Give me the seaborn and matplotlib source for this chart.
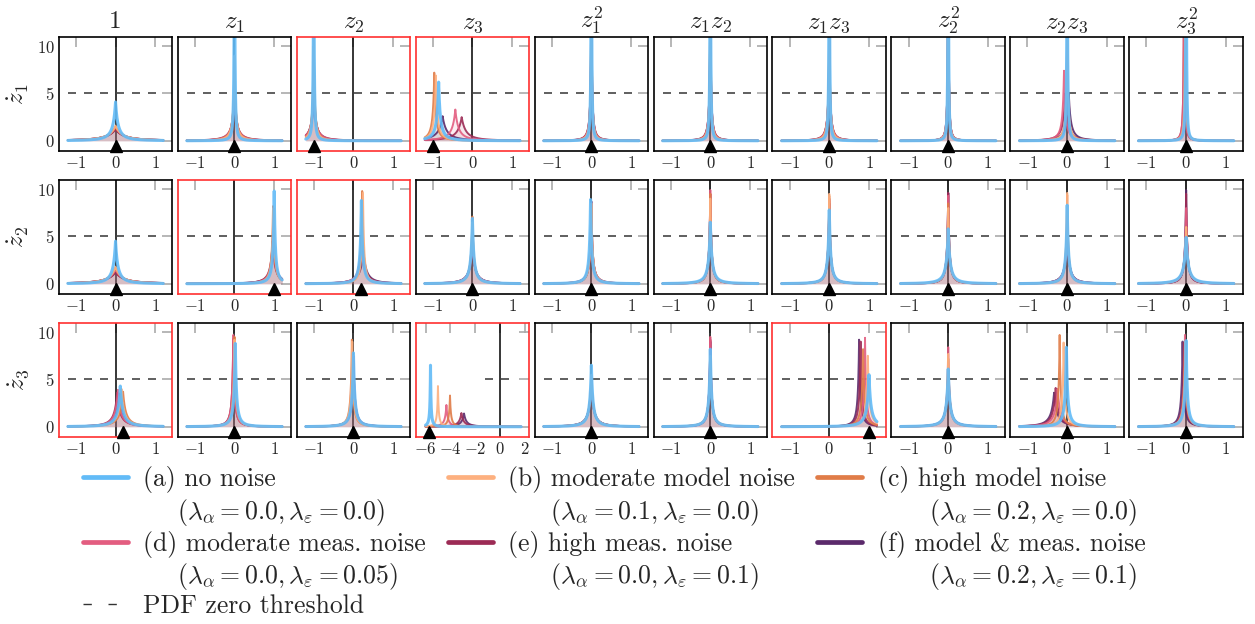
import numpy as np
import matplotlib.pyplot as plt
import seaborn as sns
from matplotlib.lines import Line2D

# --------------------------
# Data
# --------------------------
terms = ["1", r"$z_1$", r"$z_2$", r"$z_3$", r"$z_1^2$", r"$z_1 z_2$",
         r"$z_1 z_3$", r"$z_2^2$", r"$z_2 z_3$", r"$z_3^2$"]
targets = [r"$\dot{z}_1$", r"$\dot{z}_2$", r"$\dot{z}_3$"]

setting_names = ["(a) no noise", "(b) moderate model noise", "(c) high model noise",
                 "(d) moderate meas. noise", "(e) high meas. noise", "(f) model & meas. noise"]
setting_params = [r"$(\lambda_\alpha = 0.0, \lambda_\varepsilon = 0.0)$",
                  r"$(\lambda_\alpha = 0.1, \lambda_\varepsilon = 0.0)$",
                  r"$(\lambda_\alpha = 0.2, \lambda_\varepsilon = 0.0)$",
                  r"$(\lambda_\alpha = 0.0, \lambda_\varepsilon = 0.05)$",
                  r"$(\lambda_\alpha = 0.0, \lambda_\varepsilon = 0.1)$",
                  r"$(\lambda_\alpha = 0.2, \lambda_\varepsilon = 0.1)$"]
colors = ["#62bbf7", "#fdb07f", "#e07c48", "#e35d80", "#9c2b55", "#5b2a6b"]

# true coefficient (black triangle) per row / term
true_dz1 = [0, 0, -1, -1, 0, 0, 0, 0, 0, 0]
true_dz2 = [0, 1, 0.2, 0, 0, 0, 0, 0, 0, 0]
true_dz3 = [0.2, 0, 0, -5.7, 0, 0, 1, 0, 0, 0]

# peak location per term, settings (a)..(f)
loc_dz1 = [[0, 0, 0, 0, 0, 0],
           [0, 0, 0, 0, 0, 0],
           [-1, -1, -1, -1, -1, -1],
           [-0.85, -0.92, -0.96, -0.43, -0.27, -0.75],
           [0, 0, 0, 0, 0, 0],
           [0, 0, 0, 0, 0, 0],
           [0, 0, 0, 0, 0, 0],
           [0, 0, 0, 0, 0, 0],
           [0, 0, 0, -0.08, -0.05, 0.04],
           [0, -0.02, -0.02, -0.05, -0.05, -0.03]]
loc_dz2 = [[0, 0, 0, 0, 0, 0],
           [1.0, 0.98, 0.97, 0.97, 0.96, 0.98],
           [0.2, 0.24, 0.22, 0.2, 0.22, 0.25],
           [0, 0, 0, 0, 0, 0],
           [-0.02, 0, 0, 0, 0, 0],
           [0, 0, 0, 0, 0, 0],
           [0, 0, 0, 0, 0, 0],
           [0, 0, 0, 0, 0, 0],
           [0, 0, 0, 0, 0, 0],
           [0, 0, 0, 0, 0, 0]]
loc_dz3 = [[0.12, 0.15, 0.19, 0.06, 0.04, 0.1],
           [0.02, 0, 0, -0.03, -0.03, -0.02],
           [0, -0.03, -0.04, 0, -0.01, 0],
           [-5.6, -5.0, -4.03, -4.32, -3.11, -2.9],
           [0, 0, 0, 0, 0, 0],
           [0, 0, 0, 0, 0, 0],
           [1.0, 0.97, 0.85, 0.9, 0.79, 0.75],
           [0, 0, 0, 0, 0, 0],
           [-0.02, -0.09, -0.19, -0.24, -0.29, -0.33],
           [0, -0.02, -0.03, -0.03, -0.05, -0.09]]

# peak height per term, settings (a)..(f)
height_dz1 = [[4.1, 1.6, 1.5, 1.5, 1.2, 1.3],
              [30, 9, 7, 5, 4, 6],
              [30, 12, 10, 5, 4, 6],
              [6.2, 6.9, 7.2, 3.3, 2.5, 2.6],
              [40, 20, 20, 15, 12, 15],
              [40, 20, 18, 14, 12, 14],
              [40, 15, 14, 10, 9, 11],
              [50, 30, 30, 25, 25, 25],
              [30, 12, 11, 7.4, 5, 5],
              [40, 30, 30, 30, 30, 30]]
height_dz2 = [[4.5, 1.8, 1.7, 1.5, 1.2, 1.3],
              [9.8, 8.0, 8.2, 5.5, 4.5, 4.0],
              [8.8, 9.6, 9.8, 5.0, 4.0, 3.5],
              [6.9, 6.5, 7.1, 4.5, 4.0, 4.2],
              [8.9, 8.5, 8.0, 7.0, 6.0, 8.7],
              [6.5, 9.0, 9.5, 9.9, 9.5, 9.0],
              [7.8, 9.5, 9.3, 8.8, 9.0, 8.5],
              [5.8, 8.0, 8.5, 9.3, 9.6, 9.6],
              [8.3, 9.6, 9.4, 6.0, 5.0, 5.0],
              [4.9, 6.0, 6.0, 8.0, 9.5, 9.9]]
height_dz3 = [[4.3, 4.0, 3.7, 3.9, 3.6, 3.5],
              [8.8, 9.2, 9.5, 9.7, 9.3, 9.0],
              [7.8, 9.0, 9.2, 7.5, 7.0, 7.0],
              [6.5, 4.3, 3.3, 2.3, 1.45, 1.4],
              [6.5, 5.5, 5.0, 4.9, 4.5, 4.5],
              [8.2, 7.5, 7.0, 9.5, 9.2, 9.0],
              [5.5, 7.5, 8.2, 9.4, 9.0, 9.2],
              [6.1, 7.7, 7.2, 8.4, 6.0, 6.0],
              [8.4, 8.9, 9.7, 4.0, 4.1, 3.6],
              [9.1, 9.0, 9.0, 9.7, 8.9, 9.0]]

# panels where the identified support is wrong (red frame)
red_panels = [(0, 2), (0, 3), (1, 1), (1, 2), (2, 0), (2, 3), (2, 6)]

true_vals = [true_dz1, true_dz2, true_dz3]
locs = [loc_dz1, loc_dz2, loc_dz3]
heights = [height_dz1, height_dz2, height_dz3]

# --------------------------
# Style
# --------------------------
sns.set_style("white")
plt.rcParams["font.family"] = ["cmr10", "DejaVu Serif"]
plt.rcParams["mathtext.fontset"] = "cm"
plt.rcParams["axes.formatter.use_mathtext"] = True

fig, axes = plt.subplots(3, 10, figsize=(12.55, 6.24), dpi=100)
fig.subplots_adjust(left=0.0468, right=0.9904, top=0.9412, bottom=0.3002,
                    wspace=0.047, hspace=0.254)

for r in range(3):
    for c in range(10):
        ax = axes[r, c]
        wide = (r, c) == (2, 3)
        grid = np.linspace(-6.0, 1.7, 4001) if wide else np.linspace(-1.2, 1.2, 2401)

        # curves: draw (f) first, (a) last so blue sits on top
        for k in reversed(range(6)):
            m = locs[r][c][k]
            h = heights[r][c][k]
            s = 1.0 / (2 * h)
            x = np.sort(np.append(grid, m))
            y = h / (1 + np.abs(x - m) / s) ** 2
            ax.fill_between(x, y, color=colors[k], alpha=0.1, lw=0, zorder=1.5)
            sns.lineplot(x=x, y=y, ax=ax, color=colors[k], lw=2.2 if k == 0 else 1.4,
                         alpha=0.9, estimator=None, sort=False, zorder=2)

        ax.axvline(0, color="k", lw=1.1, zorder=1)
        ax.plot([-1.2, 1.2], [5, 5], color="#444444", lw=1.2, dashes=(4.8, 4.8), zorder=1)
        ax.plot(true_vals[r][c], -0.6, marker="^", color="k", ms=9, clip_on=False, zorder=5)

        ax.set_ylim(-1.05, 11)
        if wide:
            ax.set_xlim(-6.8, 2.35)
            ax.set_xticks([-6, -4, -2, 0, 2])
        else:
            ax.set_xlim(-1.43, 1.43)
            ax.set_xticks([-1, 0, 1])
        ax.set_yticks([0, 5, 10])
        ax.tick_params(direction="in", length=7, width=1.2, color="#aaaaaa",
                       top=True, right=True, labelsize=12, pad=3,
                       labelleft=(c == 0))
        ax.set_xlabel("")
        ax.set_ylabel("")

        edge = "#ff3030" if (r, c) in red_panels else "black"
        for sp in ax.spines.values():
            sp.set_color(edge)
            sp.set_linewidth(1.2)

        if r == 0:
            ax.set_title(terms[c], fontsize=18, pad=6)
        if c == 0:
            ax.set_ylabel(targets[r], fontsize=18, labelpad=4)

# --------------------------
# Legend: one line per row, handle next to the first line only
# --------------------------
blank = Line2D([], [], color="none")
thr = Line2D([], [], color="#333333", lw=1.0, dashes=(6, 12))
indent = ["    ", "     ", "      ", "    ", "     ", "      "]
leg_h, leg_l = [], []
for col in [[0, 3, None], [1, 4], [2, 5]]:
    for i in col:
        if i is None:
            leg_h.append(thr)
            leg_l.append("PDF zero threshold")
        else:
            leg_h += [Line2D([], [], color=colors[i], lw=3.4), blank]
            leg_l += [setting_names[i], indent[i] + setting_params[i]]

fig.legend(leg_h, leg_l, loc="upper left", bbox_to_anchor=(0.058, 0.269), ncol=3,
           frameon=False, fontsize=18.5, handlelength=1.75, handletextpad=0.6,
           columnspacing=0.85, labelspacing=0.12, borderaxespad=0)

fig.savefig("out.png", dpi=100)
